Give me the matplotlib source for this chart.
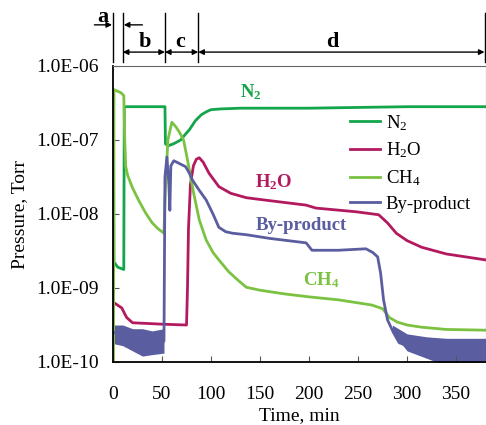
import numpy as np
import matplotlib
matplotlib.use('Agg')
import matplotlib.pyplot as plt
from matplotlib.ticker import FixedLocator, FuncFormatter

plt.rcParams['font.family'] = ['Liberation Serif', 'DejaVu Serif']
plt.rcParams['mathtext.default'] = 'regular'

# Readings from the reference (time in min, log10 of pressure in Torr)
n2_t = [0, 0.5, 1, 5, 11, 11.5, 53, 53.5, 56, 62, 69, 74, 78, 80, 84, 90, 95, 100, 110, 130, 200, 250, 300, 380]
n2_log = [-6.55, -6.55, -8.65, -8.72, -8.75, -6.55, -6.55, -7.05, -7.08, -7.05, -7.0, -6.92, -6.86, -6.82, -6.74, -6.66, -6.62, -6.59, -6.58, -6.57, -6.57, -6.56, -6.55, -6.55]

h2o_t = [0, 9, 12, 14, 20, 52, 75, 76, 77, 79, 82, 85, 88, 92, 98, 108, 120, 136, 160, 197, 207, 248, 271, 280, 289, 300, 315, 340, 380]
h2o_log = [-9.19, -9.27, -9.35, -9.4, -9.47, -9.49, -9.5, -9.0, -8.2, -7.6, -7.35, -7.26, -7.24, -7.3, -7.45, -7.63, -7.72, -7.78, -7.82, -7.88, -7.92, -7.97, -8.01, -8.12, -8.26, -8.36, -8.45, -8.54, -8.62]

ch4_t = [0, 0.5, 1, 8, 11, 12, 13, 15, 20, 26, 33, 40, 46, 52, 53, 56, 60, 64, 68, 72, 76, 82, 88, 95, 102, 108, 118, 128, 136, 150, 175, 200, 230, 264, 275, 282, 290, 300, 315, 340, 380]
ch4_log = [-10, -10, -6.32, -6.36, -6.4, -7.0, -7.36, -7.48, -7.65, -7.81, -7.98, -8.12, -8.2, -8.26, -7.8, -7.0, -6.76, -6.82, -6.9, -7.0, -7.27, -7.7, -8.08, -8.35, -8.52, -8.62, -8.78, -8.9, -8.99, -9.03, -9.08, -9.12, -9.16, -9.23, -9.28, -9.4, -9.46, -9.5, -9.53, -9.56, -9.57]

byp_t = [0, 10, 20, 30, 40, 52, 53, 55, 57, 58, 59, 62, 68, 74, 78, 81, 88, 95, 102, 108, 115, 122, 136, 160, 197, 203, 230, 258, 265, 270, 273, 276, 280, 286, 292, 300, 315, 335, 360, 380]
byp_log = [-9.6, -9.62, -9.68, -9.72, -9.75, -9.72, -7.5, -7.23, -7.6, -7.95, -7.35, -7.28, -7.32, -7.36, -7.45, -7.54, -7.68, -7.81, -8.0, -8.18, -8.24, -8.26, -8.28, -8.33, -8.39, -8.49, -8.49, -8.47, -8.52, -8.58, -8.8, -9.16, -9.43, -9.6, -9.74, -9.78, -9.82, -9.84, -9.84, -9.84]

# noisy bands of the by-product signal
byp_band1_t = [0, 10, 20, 30, 40, 52]
byp_band1_lo = [-9.75, -9.78, -9.85, -9.92, -9.9, -9.88]
byp_band1_hi = [-9.5, -9.5, -9.55, -9.55, -9.58, -9.55]
byp_band2_t = [285, 300, 320, 340, 360, 380]
byp_band2_lo = [-9.6, -9.85, -9.95, -10.05, -10.05, -10.05]
byp_band2_hi = [-9.5, -9.62, -9.66, -9.68, -9.68, -9.68]

# phases on top of the chart
phase_edges = [0, 10, 53, 87, 379]
phase_names = ['a', 'b', 'c', 'd']

c_n2 = '#12a54a'
c_h2o = '#b3195f'
c_ch4 = '#7cc242'
c_byp = '#5b5da1'

fig = plt.figure(figsize=(4.86, 4.25), dpi=100)
ax = fig.add_axes([113 / 486, 1 - 362 / 425, 372.5 / 486, 296 / 425])

def p(v):
    return 10 ** np.array(v)

ax.fill_between(byp_band1_t, p(byp_band1_lo), p(byp_band1_hi), color=c_byp, lw=0)
ax.fill_between(byp_band2_t, p(byp_band2_lo), p(byp_band2_hi), color=c_byp, lw=0)
ax.plot(n2_t, p(n2_log), color=c_n2, lw=2, label='N$_2$')
ax.plot(h2o_t, p(h2o_log), color=c_h2o, lw=2, label='H$_2$O')
ax.plot(ch4_t, p(ch4_log), color=c_ch4, lw=2, label='CH$_4$')
ax.plot(byp_t, p(byp_log), color=c_byp, lw=2, label='By-product')

ax.set_yscale('log')
ax.set_ylim(1e-10, 1e-6)
ax.set_xlim(0, 380)
ax.yaxis.set_major_locator(FixedLocator([1e-10, 1e-9, 1e-8, 1e-7, 1e-6]))
ax.yaxis.set_minor_locator(FixedLocator([]))
ax.yaxis.set_major_formatter(FuncFormatter(lambda v, pos: '%.1E' % v))
ax.set_xticks(range(0, 351, 50))
ax.tick_params(direction='in', labelsize=14, length=4, width=0.8, colors='#555555', labelcolor='black')
ax.tick_params(axis='x', pad=17)
ax.tick_params(axis='y', pad=10)
ax.set_xlabel('Time, min', fontsize=14, labelpad=3)
ax.set_ylabel('Pressure, Torr', fontsize=14, labelpad=6)
for s in ['left', 'bottom']:
    ax.spines[s].set_linewidth(1.3)
for s in ['top', 'right']:
    ax.spines[s].set_linewidth(0.8)
    ax.spines[s].set_color('#666666')

ax.legend(loc='upper left', bbox_to_anchor=(350 / 486, 1 - 113 / 425), bbox_transform=fig.transFigure,
          frameon=False, fontsize=13.5, handlelength=1.6, handletextpad=0.3, labelspacing=0.42,
          borderpad=0, borderaxespad=0)

# labels inside the plot
ax.text(141, 10 ** -6.35, 'N$_2$', color=c_n2, fontsize=13.5, fontweight='bold', ha='center', va='center')
ax.text(164, 10 ** -7.57, 'H$_2$O', color=c_h2o, fontsize=13.5, fontweight='bold', ha='center', va='center')
ax.text(192, 10 ** -8.15, 'By-product', color=c_byp, fontsize=13.5, fontweight='bold', ha='center', va='center')
ax.text(212, 10 ** -8.9, 'CH$_4$', color=c_ch4, fontsize=13.5, fontweight='bold', ha='center', va='center')

# phase markers above the axes
tr = ax.get_xaxis_transform()
for x in phase_edges:
    ax.plot([x, x], [1.0135, 1.179], transform=tr, color='black', lw=1, clip_on=False)
arrow = dict(arrowstyle='<|-|>', color='black', lw=1, mutation_scale=8, shrinkA=0, shrinkB=0)
for i in range(1, 4):
    ax.annotate('', xy=(phase_edges[i], 1.047), xytext=(phase_edges[i + 1], 1.047), xycoords=tr,
                textcoords=tr, arrowprops=arrow, annotation_clip=False)
one = dict(arrowstyle='-|>', color='black', lw=1, mutation_scale=8, shrinkA=0, shrinkB=0)
ax.annotate('', xy=(-1, 1.139), xytext=(-19, 1.139), xycoords=tr, textcoords=tr,
            arrowprops=one, annotation_clip=False)
ax.annotate('', xy=(11, 1.139), xytext=(30, 1.139), xycoords=tr, textcoords=tr,
            arrowprops=one, annotation_clip=False)
label_pos = [(-10, 1.165), (32, 1.082), (69, 1.082), (224, 1.082)]
for name, (x, y) in zip(phase_names, label_pos):
    ax.text(x, y, name, transform=tr, fontsize=16, fontweight='bold', ha='center', va='center')

fig.savefig('out.png', dpi=100)
